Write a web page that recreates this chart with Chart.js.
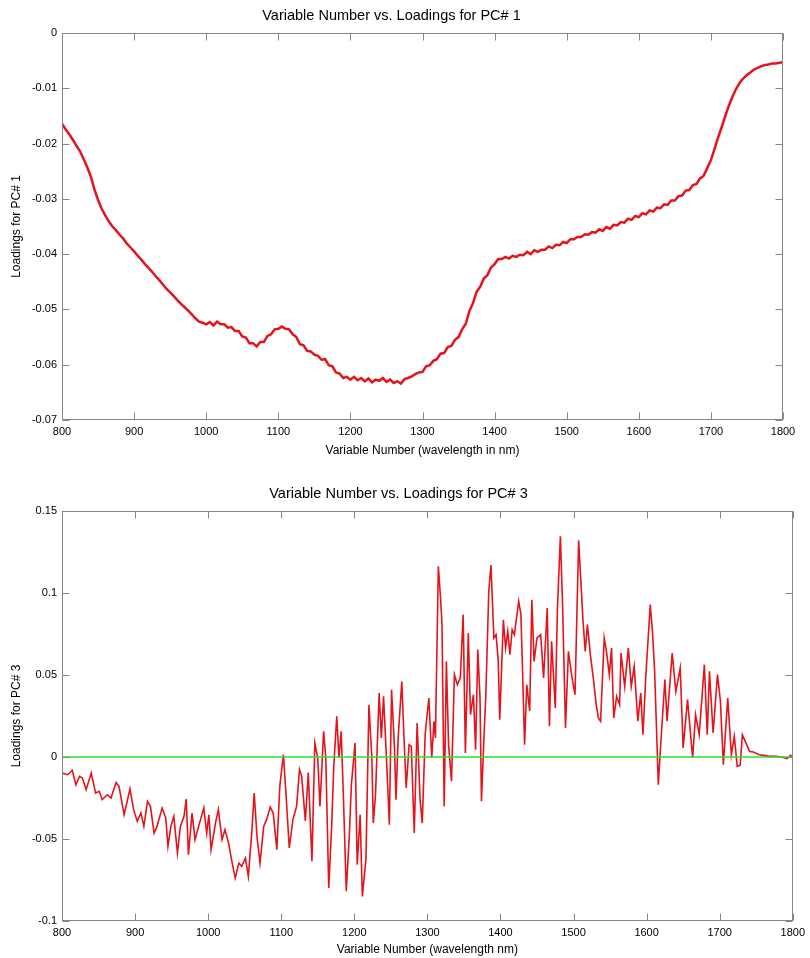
<!DOCTYPE html>
<html>
<head>
<meta charset="utf-8">
<script src="https://cdn.jsdelivr.net/npm/chart.js@4.4.1/dist/chart.umd.min.js"></script>
<style>
  html, body { margin: 0; background: #fff; }
  canvas { position: absolute; left: 0; }
  #pc1 { top: 0; }
  #pc3 { top: 470px; }
</style>
</head>
<body>
<canvas id="pc1" width="810" height="460"></canvas>
<canvas id="pc3" width="810" height="488"></canvas>
<script>
// ---- data ----
const xTickValues = [800, 900, 1000, 1100, 1200, 1300, 1400, 1500, 1600, 1700, 1800];
const pc1TickValues = [0, -0.01, -0.02, -0.03, -0.04, -0.05, -0.06, -0.07];
const pc3TickValues = [0.15, 0.1, 0.05, 0, -0.05, -0.1];

const pc1Wavelengths = [
  800, 805, 810, 815, 820, 825, 830, 835, 840, 845,
  850, 855, 860, 865, 870, 875, 880, 885, 890, 895,
  900, 905, 910, 915, 920, 925, 930, 935, 940, 945,
  950, 955, 960, 965, 970, 975, 980, 985, 990, 995,
  1000, 1005, 1010, 1015, 1020, 1025, 1030, 1035, 1040, 1045,
  1050, 1055, 1060, 1065, 1070, 1075, 1080, 1085, 1090, 1095,
  1100, 1105, 1110, 1115, 1120, 1125, 1130, 1135, 1140, 1145,
  1150, 1155, 1160, 1165, 1170, 1175, 1180, 1185, 1190, 1195,
  1200, 1205, 1210, 1215, 1220, 1225, 1230, 1235, 1240, 1245,
  1250, 1255, 1260, 1265, 1270, 1275, 1280, 1285, 1290, 1295,
  1300, 1305, 1310, 1315, 1320, 1325, 1330, 1335, 1340, 1345,
  1350, 1355, 1360, 1365, 1370, 1375, 1380, 1385, 1390, 1395,
  1400, 1405, 1410, 1415, 1420, 1425, 1430, 1435, 1440, 1445,
  1450, 1455, 1460, 1465, 1470, 1475, 1480, 1485, 1490, 1495,
  1500, 1505, 1510, 1515, 1520, 1525, 1530, 1535, 1540, 1545,
  1550, 1555, 1560, 1565, 1570, 1575, 1580, 1585, 1590, 1595,
  1600, 1605, 1610, 1615, 1620, 1625, 1630, 1635, 1640, 1645,
  1650, 1655, 1660, 1665, 1670, 1675, 1680, 1685, 1690, 1695,
  1700, 1705, 1710, 1715, 1720, 1725, 1730, 1735, 1740, 1745,
  1750, 1755, 1760, 1765, 1770, 1775, 1780, 1785, 1790, 1795,
  1800
];
const pc1Loadings = [
  -0.0164, -0.0174, -0.0183, -0.0193, -0.0204, -0.0214, -0.0228, -0.0243, -0.0260, -0.0283,
  -0.0302, -0.0318, -0.0330, -0.0341, -0.0350, -0.0357, -0.0365, -0.0372, -0.0381, -0.0388,
  -0.0395, -0.0403, -0.0410, -0.0418, -0.0425, -0.0432, -0.0440, -0.0447, -0.0455, -0.0463,
  -0.0469, -0.0476, -0.0483, -0.0490, -0.0496, -0.0502, -0.0509, -0.0516, -0.0522, -0.0524,
  -0.0527, -0.0523, -0.0529, -0.0522, -0.0527, -0.0527, -0.0533, -0.0532, -0.0539, -0.0539,
  -0.0549, -0.0551, -0.0561, -0.0561, -0.0567, -0.0559, -0.0559, -0.0548, -0.0545, -0.0536,
  -0.0535, -0.0531, -0.0535, -0.0536, -0.0545, -0.0550, -0.0563, -0.0565, -0.0575, -0.0576,
  -0.0582, -0.0584, -0.0591, -0.0590, -0.0601, -0.0603, -0.0614, -0.0616, -0.0624, -0.0622,
  -0.0627, -0.0622, -0.0628, -0.0624, -0.0630, -0.0625, -0.0632, -0.0627, -0.0629, -0.0624,
  -0.0631, -0.0627, -0.0633, -0.0630, -0.0634, -0.0626, -0.0624, -0.0621, -0.0617, -0.0614,
  -0.0613, -0.0603, -0.0601, -0.0593, -0.0590, -0.0580, -0.0579, -0.0568, -0.0566, -0.0555,
  -0.0550, -0.0536, -0.0526, -0.0503, -0.0489, -0.0468, -0.0459, -0.0444, -0.0438, -0.0424,
  -0.0418, -0.0409, -0.0409, -0.0405, -0.0408, -0.0403, -0.0405, -0.0401, -0.0402, -0.0396,
  -0.0400, -0.0393, -0.0396, -0.0392, -0.0392, -0.0386, -0.0389, -0.0383, -0.0384, -0.0378,
  -0.0380, -0.0373, -0.0373, -0.0369, -0.0369, -0.0364, -0.0365, -0.0360, -0.0361, -0.0355,
  -0.0358, -0.0351, -0.0354, -0.0347, -0.0348, -0.0342, -0.0343, -0.0336, -0.0338, -0.0331,
  -0.0333, -0.0326, -0.0328, -0.0321, -0.0323, -0.0316, -0.0317, -0.0310, -0.0311, -0.0303,
  -0.0303, -0.0295, -0.0294, -0.0285, -0.0284, -0.0275, -0.0273, -0.0263, -0.0258, -0.0244,
  -0.0230, -0.0210, -0.0189, -0.0170, -0.0150, -0.0131, -0.0115, -0.0101, -0.0090, -0.0082,
  -0.0076, -0.0071, -0.0066, -0.0063, -0.0060, -0.0058, -0.0057, -0.0055, -0.0055, -0.0054,
  -0.0053
];

const pc3Wavelengths = [
  800, 808, 814, 819, 824, 828, 833, 840, 846, 851,
  855, 862, 867, 874, 878, 885, 893, 898, 903, 908,
  912, 917, 921, 926, 930, 937, 942, 945, 949, 953,
  958, 962, 967, 970, 973, 978, 982, 987, 994, 998,
  1001, 1004, 1010, 1014, 1019, 1023, 1028, 1032, 1037, 1042,
  1046, 1051, 1055, 1060, 1063, 1067, 1071, 1076, 1080, 1085,
  1089, 1094, 1098, 1103, 1107, 1111, 1116, 1121, 1125, 1128,
  1133, 1137, 1142, 1146, 1150, 1153, 1158, 1161, 1165, 1169,
  1172, 1176, 1179, 1182, 1185, 1189, 1193, 1196, 1201, 1204,
  1208, 1211, 1216, 1220, 1224, 1226, 1229, 1234, 1237, 1240,
  1244, 1248, 1251, 1255, 1257, 1260, 1265, 1268, 1271, 1275,
  1278, 1282, 1286, 1290, 1293, 1297, 1302, 1306, 1309, 1311,
  1315, 1318, 1320, 1323, 1326, 1329, 1333, 1337, 1341, 1345,
  1349, 1352, 1356, 1359, 1363, 1366, 1369, 1372, 1374, 1377,
  1380, 1384, 1387, 1391, 1394, 1397, 1399, 1404, 1407, 1410,
  1413, 1416, 1419, 1425, 1428, 1430, 1433, 1436, 1440, 1443,
  1446, 1450, 1455, 1459, 1464, 1467, 1470, 1475, 1478, 1482,
  1485, 1489, 1493, 1498, 1502, 1507, 1513, 1516, 1519, 1523,
  1527, 1531, 1534, 1537, 1542, 1545, 1549, 1552, 1555, 1559,
  1563, 1565, 1570, 1575, 1579, 1583, 1588, 1592, 1595, 1599,
  1605, 1608, 1611, 1616, 1619, 1625, 1628, 1635, 1640, 1646,
  1650, 1656, 1663, 1667, 1672, 1679, 1683, 1686, 1691, 1697,
  1701, 1705, 1711, 1716, 1720, 1724, 1728, 1731, 1736, 1741,
  1746, 1754, 1760, 1768, 1777, 1785, 1792, 1797, 1800
];
const pc3Loadings = [
  -0.0098, -0.0108, -0.0081, -0.0169, -0.0118, -0.0128, -0.0199, -0.0098, -0.0220, -0.0209,
  -0.0260, -0.0230, -0.0250, -0.0155, -0.0179, -0.0352, -0.0195, -0.0321, -0.0392, -0.0342,
  -0.0423, -0.0270, -0.0301, -0.0464, -0.0423, -0.0311, -0.0372, -0.0545, -0.0423, -0.0362,
  -0.0586, -0.0423, -0.0362, -0.0256, -0.0596, -0.0342, -0.0504, -0.0423, -0.0311, -0.0464,
  -0.0352, -0.0565, -0.0403, -0.0321, -0.0504, -0.0443, -0.0525, -0.0626, -0.0738, -0.0647,
  -0.0667, -0.0616, -0.0728, -0.0443, -0.0220, -0.0494, -0.0647, -0.0423, -0.0382, -0.0305,
  -0.0342, -0.0565, -0.0179, 0.0014, -0.0260, -0.0555, -0.0382, -0.0301, -0.0077, -0.0118,
  -0.0390, -0.0095, -0.0636, 0.0085, -0.0006, -0.0301, 0.0157, -0.0006, -0.0799, -0.0423,
  -0.0047, 0.0248, -0.0006, 0.0157, -0.0230, -0.0819, -0.0494, -0.0169, 0.0085, -0.0656,
  -0.0352, -0.0850, -0.0616, 0.0319, -0.0006, -0.0403, -0.0230, 0.0390, 0.0116, 0.0370,
  -0.0006, -0.0413, 0.0410, 0.0055, -0.0260, 0.0116, 0.0460, 0.0116, -0.0189, 0.0075,
  0.0065, -0.0463, 0.0207, -0.0260, -0.0403, 0.0140, 0.0360, -0.0006, 0.0218, 0.0116,
  0.1163, 0.0970, 0.0809, -0.0301, 0.0583, 0.0075, -0.0148, 0.0502, 0.0441, 0.0482,
  0.0868, 0.0024, 0.0756, 0.0258, 0.0380, 0.0045, 0.0655, 0.0360, -0.0270, 0.0075,
  0.0380, 0.1009, 0.1171, 0.0726, 0.0746, 0.0583, 0.0228, 0.0837, 0.0665, 0.0766,
  0.0624, 0.0776, 0.0746, 0.0949, 0.0868, 0.0563, 0.0075, 0.0441, 0.0280, 0.0959,
  0.0583, 0.0726, 0.0746, 0.0482, 0.0909, 0.0187, 0.0706, 0.0299, 0.0909, 0.1346,
  0.0929, 0.0177, 0.0644, 0.0482, 0.0380, 0.1321, 0.0827, 0.0644, 0.0807, 0.0624,
  0.0482, 0.0319, 0.0238, 0.0218, 0.0726, 0.0644, 0.0502, 0.0665, 0.0238, 0.0370,
  0.0319, 0.0634, 0.0431, 0.0665, 0.0431, 0.0553, 0.0218, 0.0390, 0.0136, 0.0502,
  0.0929, 0.0766, 0.0522, -0.0169, 0.0055, 0.0472, 0.0218, 0.0634, 0.0400, 0.0543,
  0.0055, 0.0350, -0.0006, 0.0258, 0.0136, 0.0563, 0.0136, 0.0522, 0.0146, 0.0502,
  0.0340, -0.0047, 0.0360, 0.0014, 0.0126, -0.0057, -0.0050, 0.0136, 0.0085, 0.0034,
  0.0030, 0.0014, 0.0010, 0.0004, 0.0004, 0.0000, -0.0010, 0.0010, 0.0000
];
const zeroLine = [0, 0];
const zeroLineX = [800, 1800];

// ---- fonts: MATLAB figure uses a condensed sans ----
const probe = document.createElement('canvas').getContext('2d');
function textWidth(font) { probe.font = font; return probe.measureText('Variable Number').width; }
const narrowOk = textWidth('40px "Liberation Sans Narrow", serif') !== textWidth('40px serif');
const FAMILY = narrowOk ? '"Liberation Sans Narrow", "Liberation Sans", sans-serif' : '"Liberation Sans", Arial, sans-serif';
const K = narrowOk ? 1.2 : 1;

Chart.defaults.font.family = FAMILY;
Chart.defaults.color = '#000';

const toPoints = (xs, ys) => ys.map((v, i) => ({ x: xs[i], y: v }));
const fmt = v => String(+Number(v).toFixed(3));

// box round the axes plus inward tick marks on all four sides
const boxTicks = {
  id: 'boxTicks',
  afterDraw(chart) {
    const { ctx, chartArea: a, scales: { x, y } } = chart;
    const L = Math.round(a.left) + 0.5, R = Math.round(a.right) - 0.5;
    const T = Math.round(a.top) + 0.5, B = Math.round(a.bottom) - 0.5;
    ctx.save();
    ctx.strokeStyle = '#868686';
    ctx.lineWidth = 1;
    ctx.beginPath();
    x.ticks.forEach(t => {
      const px = Math.round(x.getPixelForValue(t.value)) + 0.5;
      ctx.moveTo(px, B); ctx.lineTo(px, B - 7);
      ctx.moveTo(px, T); ctx.lineTo(px, T + 7);
    });
    y.ticks.forEach(t => {
      const py = Math.round(y.getPixelForValue(t.value)) + 0.5;
      ctx.moveTo(L, py); ctx.lineTo(L + 7, py);
      ctx.moveTo(R, py); ctx.lineTo(R - 7, py);
    });
    ctx.stroke();
    ctx.strokeRect(L, T, R - L, B - T);
    ctx.restore();
  }
};

function makeChart(id, cfg) {
  return new Chart(document.getElementById(id), {
    type: 'line',
    data: { datasets: cfg.datasets },
    options: {
      responsive: false,
      animation: false,
      layout: { padding: { left: 0, right: cfg.right, top: 0, bottom: 0 } },
      elements: { point: { radius: 0 }, line: { tension: 0 } },
      plugins: {
        legend: { display: false },
        tooltip: { enabled: false },
        title: {
          display: true,
          text: cfg.title,
          font: { size: 14.5 * K, weight: 'normal' },
          padding: cfg.titlePad
        }
      },
      scales: {
        x: {
          type: 'linear',
          min: 800,
          max: 1800,
          grid: { display: false, drawTicks: false },
          border: { display: false },
          afterFit: s => { s.height = cfg.xHeight; },
          afterBuildTicks: s => { s.ticks = xTickValues.map(v => ({ value: v })); },
          ticks: { font: { size: 11 * K }, padding: 5, maxRotation: 0, autoSkip: false, callback: fmt },
          title: {
            display: true,
            text: cfg.xTitle,
            font: { size: 12 * K },
            padding: { top: 0, bottom: cfg.xTitlePad }
          }
        },
        y: {
          type: 'linear',
          min: cfg.yMin,
          max: cfg.yMax,
          grid: { display: false, drawTicks: false },
          border: { display: false },
          afterFit: s => { s.width = 62; },
          afterBuildTicks: s => { s.ticks = cfg.yTicks.map(v => ({ value: v })); },
          ticks: { font: { size: 11 * K }, padding: 5, autoSkip: false, callback: fmt },
          title: {
            display: true,
            text: cfg.yTitle,
            font: { size: 12 * K },
            padding: { top: 9, bottom: 0 }
          }
        }
      }
    },
    plugins: [boxTicks]
  });
}

makeChart('pc1', {
  title: 'Variable Number vs. Loadings for PC# 1',
  titlePad: { top: 7, bottom: 33 - 7 - 14.5 * K * 1.2 },
  xTitle: 'Variable Number (wavelength in nm)',
  yTitle: 'Loadings for PC# 1',
  xHeight: 40,
  xTitlePad: 2.5,
  right: 27,
  yMin: -0.07,
  yMax: 0,
  yTicks: pc1TickValues,
  datasets: [{
    data: toPoints(pc1Wavelengths, pc1Loadings),
    borderColor: '#e3141b',
    borderWidth: 2.5
  }]
});

makeChart('pc3', {
  title: 'Variable Number vs. Loadings for PC# 3',
  titlePad: { top: 15, bottom: 41 - 15 - 14.5 * K * 1.2 },
  xTitle: 'Variable Number (wavelength nm)',
  yTitle: 'Loadings for PC# 3',
  xHeight: 37,
  xTitlePad: 1.5,
  right: 13,
  yMin: -0.1,
  yMax: 0.15,
  yTicks: pc3TickValues,
  datasets: [{
    data: toPoints(zeroLineX, zeroLine),
    borderColor: '#2de02d',
    borderWidth: 1.6
  }, {
    data: toPoints(pc3Wavelengths, pc3Loadings),
    borderColor: '#e3141b',
    borderWidth: 1.6
  }]
});
</script>
</body>
</html>
